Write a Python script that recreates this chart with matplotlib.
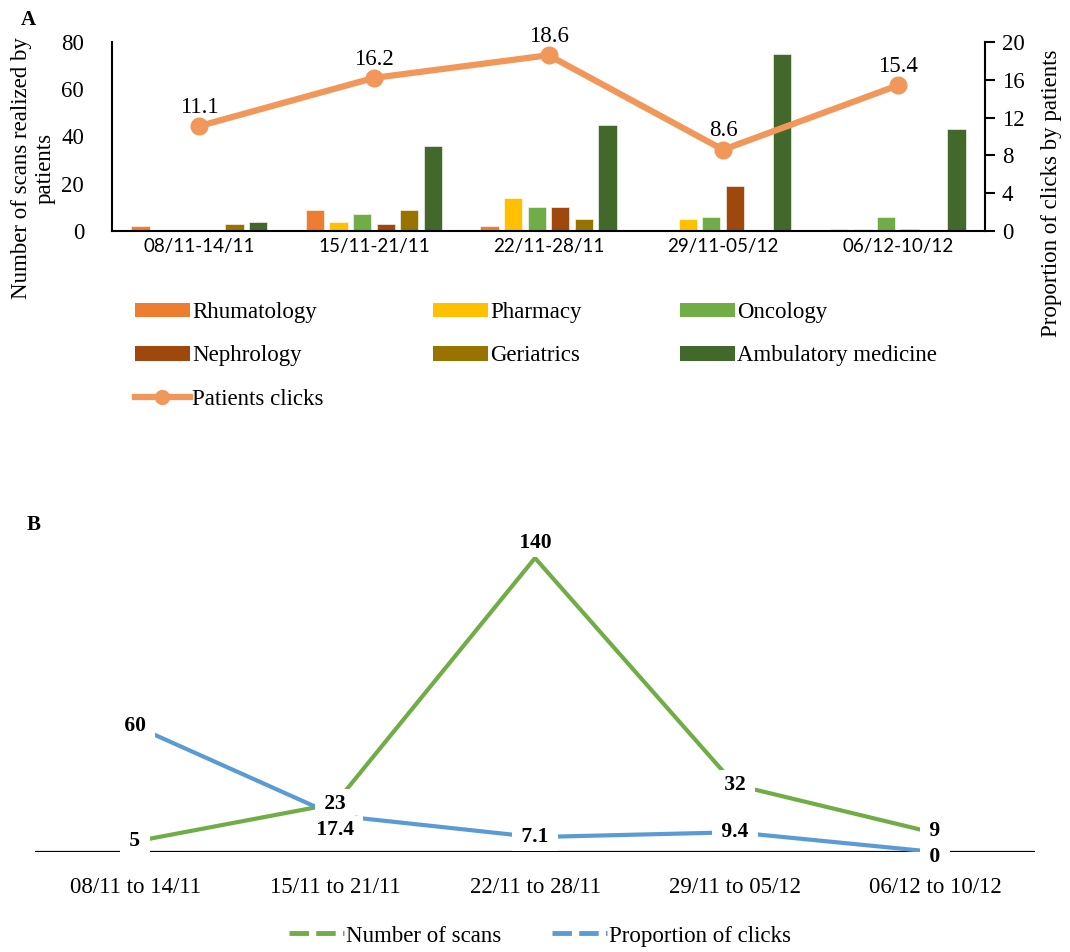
import matplotlib
matplotlib.use("Agg")
import matplotlib.pyplot as plt
import numpy as np
from matplotlib.patches import Patch
from matplotlib.lines import Line2D

# ---------------- data ----------------
weeks_a = ["08/11-14/11", "15/11-21/11", "22/11-28/11", "29/11-05/12", "06/12-10/12"]
services = ["Rhumatology", "Pharmacy", "Oncology", "Nephrology", "Geriatrics", "Ambulatory medicine"]
rhumatology = [2, 9, 2, 0, 1]
pharmacy = [0, 4, 14, 5, 1]
oncology = [0, 7, 10, 6, 6]
nephrology = [0, 3, 10, 19, 1]
geriatrics = [3, 9, 5, 0, 0]
ambulatory = [4, 36, 45, 75, 43]
patients_clicks = [11.1, 16.2, 18.6, 8.6, 15.4]

weeks_b = ["08/11 to 14/11", "15/11 to 21/11", "22/11 to 28/11", "29/11 to 05/12", "06/12 to 10/12"]
number_of_scans = [5, 23, 140, 32, 9]
proportion_of_clicks = [60, 17.4, 7.1, 9.4, 0]

# ---------------- style ----------------
SERIF = "Liberation Serif"
plt.rcParams["font.family"] = [SERIF, "DejaVu Serif"]
bar_colors = ["#ED7D31", "#FFC000", "#70AD47", "#9E480E", "#997300", "#43682B"]
line_color = "#F1975A"
green = "#70AD47"
blue = "#5B9BD5"
FS = 16.5

W, H = 1070, 952
fig = plt.figure(figsize=(W / 100, H / 100), dpi=100)

# ---------------- panel A ----------------
axA = fig.add_axes([112 / W, 1 - 231 / H, 873 / W, 189 / H])
x = np.arange(len(weeks_a))
series = [rhumatology, pharmacy, oncology, nephrology, geriatrics, ambulatory]
step, bw = 0.135, 0.105
bar_handles = []
for i, (vals, c, name) in enumerate(zip(series, bar_colors, services)):
    axA.bar(x + (i - 2.5) * step, vals, width=bw, color=c, edgecolor="white", linewidth=0.4, zorder=2)
    bar_handles.append(Patch(facecolor=c, edgecolor="none", label=name))
axA.set_xlim(-0.5, 4.5)
axA.set_ylim(0, 80)
axA.set_yticks(np.arange(0, 81, 20))
axA.tick_params(axis="y", length=0, labelsize=FS, pad=20)
axA.set_xticks(x)
axA.set_xticklabels(weeks_a, fontfamily="Lato", fontsize=13.5)
axA.tick_params(axis="x", length=0, pad=5)
for s in ["top", "right"]:
    axA.spines[s].set_visible(False)
axA.spines["left"].set_linewidth(1.5)
axA.spines["bottom"].set_linewidth(1.5)

axA2 = axA.twinx()
axA2.set_ylim(0, 20)
axA2.set_yticks(np.arange(0, 21, 4))
axA2.tick_params(axis="y", length=7, width=1.5, direction="out", labelsize=FS, pad=5)
for s in ["top", "left", "bottom"]:
    axA2.spines[s].set_visible(False)
axA2.spines["right"].set_linewidth(1.5)
axA2.plot(x, patients_clicks, color=line_color, lw=4.5, marker="o", ms=12, zorder=3)
for xi, v in zip(x, patients_clicks):
    axA2.annotate(f"{v}", (xi, v), xytext=(0, 6), textcoords="offset points",
                  ha="center", va="bottom", fontsize=FS)

fig.text(33 / W, 1 - 168 / H, "Number of scans realized by\npatients", rotation=90,
         ha="center", va="center", multialignment="center", fontsize=FS, linespacing=1.15)
fig.text(1052 / W, 1 - 193 / H, "Proportion of clicks by patients", rotation=90,
         ha="center", va="center", fontsize=FS)
fig.text(21 / W, 1 - 20 / H, "A", fontsize=15, fontweight="bold", ha="left", va="center")

line_handle = Line2D([0], [0], color=line_color, lw=4.5, marker="o", ms=10, label="Patients clicks")
cols = [[bar_handles[0], bar_handles[3], line_handle],
        [bar_handles[1], bar_handles[4]],
        [bar_handles[2], bar_handles[5]]]
col_x = [135, 433, 680]
for hs, cx in zip(cols, col_x):
    fig.legend(handles=hs, loc="upper left", bbox_to_anchor=(cx / W, 1 - 302 / H),
               frameon=False, fontsize=FS, handlelength=2.4, handleheight=0.6,
               handletextpad=0.1, labelspacing=0.98, borderaxespad=0, borderpad=0)

# ---------------- panel B ----------------
axB = fig.add_axes([35 / W, 1 - 852 / H, 1000 / W, 315 / H])
xb = np.arange(len(weeks_b))
axB.plot(xb, number_of_scans, color=green, lw=3, zorder=2)
axB.plot(xb, proportion_of_clicks, color=blue, lw=3, zorder=2)
axB.axhline(0, color="black", lw=1.6, zorder=1)
axB.set_xlim(-0.5, 4.5)
axB.set_ylim(0, 150)
axB.set_yticks([])
axB.set_xticks(xb)
axB.set_xticklabels(weeks_b, fontsize=FS)
axB.tick_params(axis="x", length=0, pad=18)
for s in axB.spines.values():
    s.set_visible(False)

bbox = dict(boxstyle="square,pad=0.2", facecolor="white", edgecolor="none")
offs_clicks = [0, -15, 0, 0, -5]
offs_scans = [0, 0, 15, 0, 2]
for xi, v, o in zip(xb, proportion_of_clicks, offs_clicks):
    axB.annotate(f" {v} ", (xi, v), xytext=(0, o), textcoords="offset pixels", ha="center",
                 va="center", fontsize=15.5, fontweight="bold", bbox=bbox, zorder=5)
for xi, v, o in zip(xb, number_of_scans, offs_scans):
    axB.annotate(f" {v} ", (xi, v), xytext=(0, o), textcoords="offset pixels", ha="center",
                 va="center", fontsize=15.5, fontweight="bold", bbox=bbox, zorder=6)

fig.text(27 / W, 1 - 525 / H, "B", fontsize=15, fontweight="bold", ha="left", va="center")

hb = [Line2D([0], [0], color=green, lw=3.5, ls=(0, (4, 1.5)), label="Number of scans"),
      Line2D([0], [0], color=blue, lw=3.5, ls=(0, (4, 1.5)), label="Proportion of clicks")]
fig.legend(handles=hb, loc="center", bbox_to_anchor=(540 / W, 1 - 936 / H), ncol=2,
           frameon=False, fontsize=FS, handlelength=2.4, handletextpad=0.1,
           columnspacing=2.2, borderaxespad=0, borderpad=0)

fig.savefig("out.png", dpi=100)
